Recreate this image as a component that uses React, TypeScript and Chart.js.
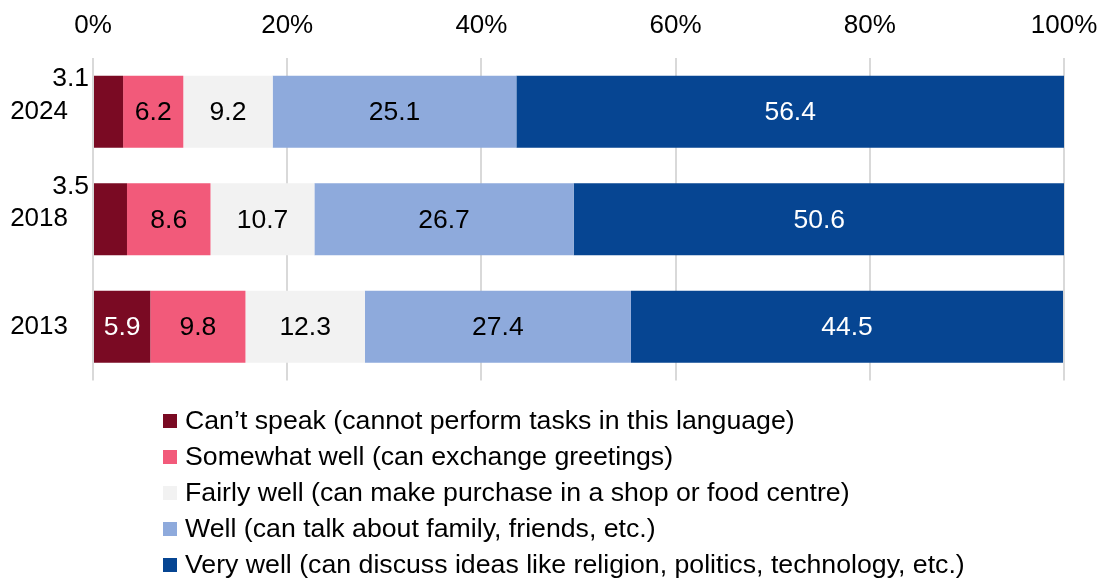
import React, { useEffect, useRef } from "react";
import { Chart, registerables } from "chart.js";

Chart.register(...registerables);

const years = ["2024", "2018", "2013"];
const seriesNames = [
  "Can\u2019t speak (cannot perform tasks in this language)",
  "Somewhat well (can exchange greetings)",
  "Fairly well (can make purchase in a shop or food centre)",
  "Well (can talk about family, friends, etc.)",
  "Very well (can discuss ideas like religion, politics, technology, etc.)",
];
const cantSpeak = [3.1, 3.5, 5.9];
const somewhatWell = [6.2, 8.6, 9.8];
const fairlyWell = [9.2, 10.7, 12.3];
const well = [25.1, 26.7, 27.4];
const veryWell = [56.4, 50.6, 44.5];
const xTicks = [0, 20, 40, 60, 80, 100];

const colors = ["#7a0a23", "#f25a7a", "#f2f2f2", "#8eaadc", "#064592"];
const labelColors = ["#ffffff", "#000000", "#000000", "#000000", "#ffffff"];
const FONT = "'Liberation Sans', Arial, sans-serif";
const AXIS_FS = 26;
const LABEL_FS = 26.5;
const LEGEND_FS = 26.7;

const labelPlugin = {
  id: "barLabels",
  afterDatasetsDraw(chart: any) {
    const ctx = chart.ctx;
    ctx.save();
    ctx.font = `${LABEL_FS}px ${FONT}`;
    chart.data.datasets.forEach((ds: any, di: number) => {
      const meta = chart.getDatasetMeta(di);
      meta.data.forEach((bar: any, i: number) => {
        const v = ds.data[i];
        const left = Math.min(bar.x, bar.base);
        const right = Math.max(bar.x, bar.base);
        const w = right - left;
        const txt = v.toFixed(1);
        if (w < 40) {
          ctx.fillStyle = "#000";
          ctx.textAlign = "right";
          ctx.textBaseline = "middle";
          ctx.fillText(txt, left - 5, bar.y - bar.height / 2 + 3);
        } else {
          ctx.fillStyle = labelColors[di];
          ctx.textAlign = "center";
          ctx.textBaseline = "middle";
          ctx.fillText(txt, (left + right) / 2, bar.y + 1);
        }
      });
    });
    ctx.restore();
  },
};

const legendPlugin = {
  id: "vertLegend",
  afterDraw(chart: any) {
    const ctx = chart.ctx;
    const area = chart.chartArea;
    ctx.save();
    ctx.font = `${LEGEND_FS}px ${FONT}`;
    ctx.textAlign = "left";
    ctx.textBaseline = "middle";
    chart.data.datasets.forEach((ds: any, i: number) => {
      const cy = area.bottom + 40.5 + i * 36;
      const x = area.left + 70;
      ctx.fillStyle = ds.backgroundColor;
      ctx.fillRect(x, cy - 7, 14, 14);
      ctx.fillStyle = "#000";
      ctx.fillText(ds.label, x + 22, cy + 1);
    });
    ctx.restore();
  },
};

export default function App() {
  const ref = useRef<HTMLCanvasElement>(null);
  useEffect(() => {
    if (!ref.current) return;
    const values = [cantSpeak, somewhatWell, fairlyWell, well, veryWell];
    const chart = new Chart(ref.current, {
      type: "bar",
      data: {
        labels: years,
        datasets: values.map((d, i) => ({
          label: seriesNames[i],
          data: d,
          backgroundColor: colors[i],
          borderWidth: 0,
          categoryPercentage: 1,
          barPercentage: 0.67,
        })),
      },
      options: {
        indexAxis: "y",
        animation: false,
        responsive: false,
        devicePixelRatio: 1,
        layout: { padding: { left: 0, right: 36, top: 0, bottom: 198.5 } },
        plugins: { legend: { display: false }, tooltip: { enabled: false } },
        scales: {
          x: {
            stacked: true,
            position: "top",
            min: 0,
            max: 100,
            afterBuildTicks: (scale: any) => {
              scale.ticks = xTicks.map((v) => ({ value: v }));
            },
            afterFit: (scale: any) => {
              scale.height = 58;
              scale.paddingLeft = 0;
              scale.paddingRight = 0;
            },
            ticks: {
              callback: (v: any) => `${v}%`,
              color: "#000",
              font: { family: FONT, size: AXIS_FS },
              padding: 17,
              maxRotation: 0,
            },
            grid: { color: "#d9d9d9", lineWidth: 2, drawTicks: false },
            border: { display: false },
          },
          y: {
            stacked: true,
            afterFit: (scale: any) => {
              scale.width = 93;
              scale.paddingTop = 0;
              scale.paddingBottom = 0;
            },
            ticks: {
              color: "#000",
              font: { family: FONT, size: AXIS_FS },
              padding: 25,
            },
            grid: { display: false, drawTicks: false },
            border: { display: false },
          },
        },
      },
      plugins: [labelPlugin, legendPlugin],
    } as any);
    return () => chart.destroy();
  }, []);
  return (
    <div style={{ position: "fixed", left: 0, top: 0, width: 1100, height: 579, background: "#fff" }}>
      <canvas ref={ref} width={1100} height={579} />
    </div>
  );
}
